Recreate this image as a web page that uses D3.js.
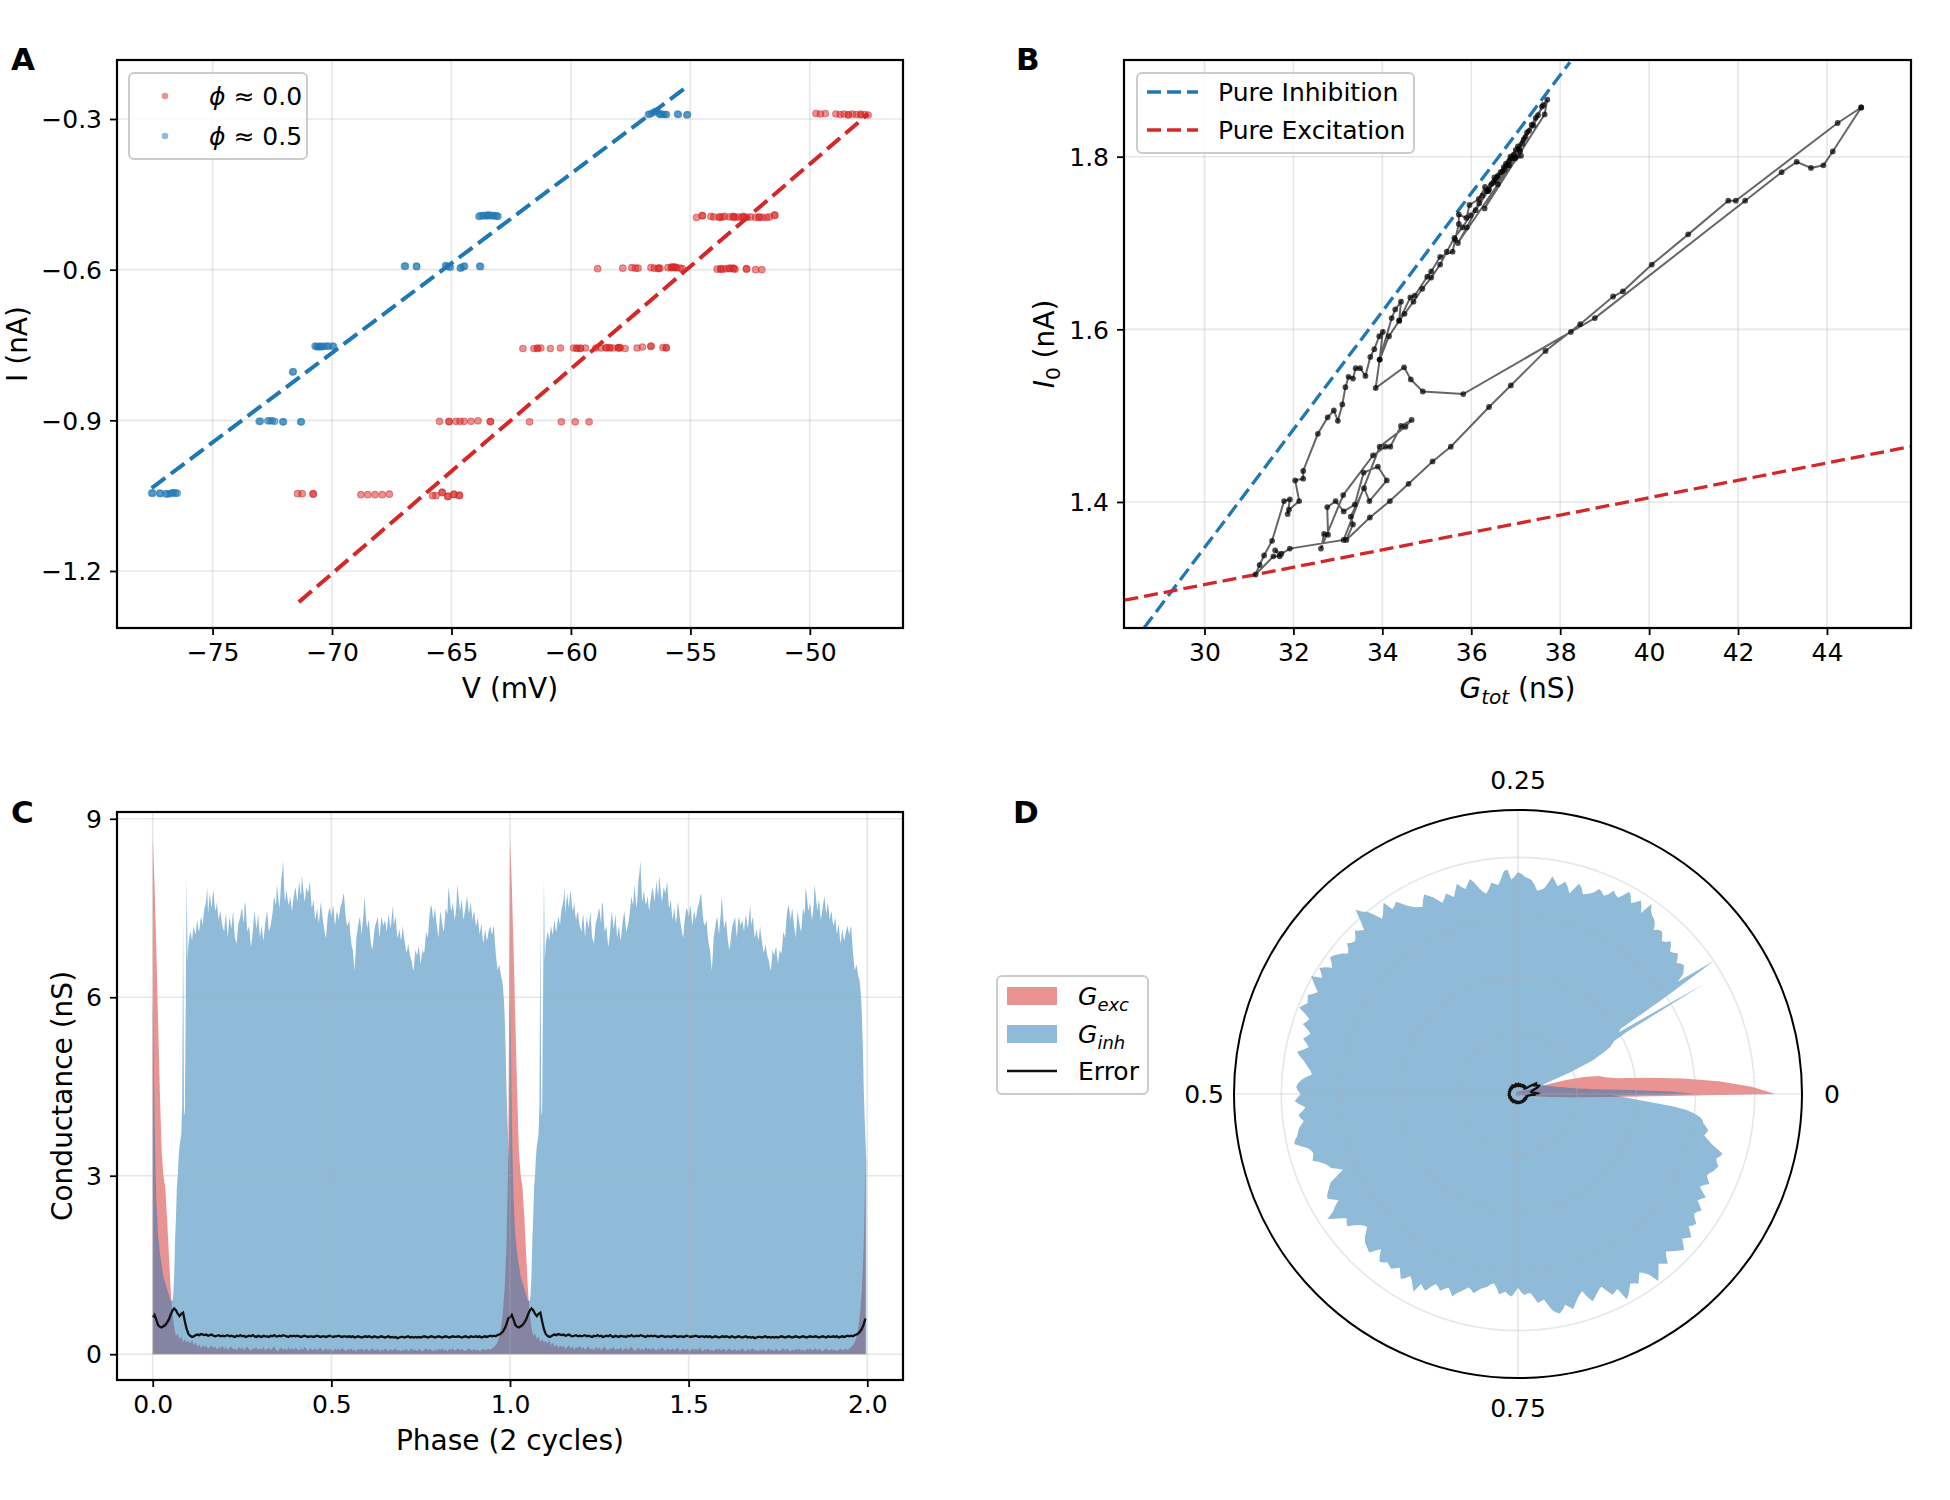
<!DOCTYPE html>
<html>
<head>
<meta charset="utf-8">
<script src="https://cdn.jsdelivr.net/npm/d3@7"></script>
<style>
body { margin: 0; background: #fff; }
svg { font-family: "DejaVu Sans", sans-serif; }
</style>
</head>
<body>
<svg id="fig" width="1950" height="1500"></svg>
<script>
// ---------- panel A: I-V points, two phases ----------
var ivPhase0 = [
    [-49.74,-0.289],[-49.56,-0.29],[-49.35,-0.289],[-48.91,-0.29],[-48.73,-0.291],[-48.57,-0.29],[-48.39,-0.291],[-48.39,-0.292],
    [-48.21,-0.29],[-48.05,-0.291],[-47.87,-0.292],[-47.87,-0.29],[-47.69,-0.291],[-47.56,-0.292],
    [-54.74,-0.496],[-54.5,-0.492],[-54.5,-0.493],[-54.14,-0.494],[-54.02,-0.495],[-53.78,-0.495],[-53.78,-0.496],[-53.66,-0.495],
    [-53.56,-0.494],[-53.35,-0.495],[-53.2,-0.495],[-53.2,-0.494],[-53.13,-0.496],[-52.99,-0.495],[-52.84,-0.496],[-52.77,-0.495],
    [-52.77,-0.494],[-52.63,-0.496],[-52.48,-0.495],[-52.27,-0.496],[-52.12,-0.495],[-52.12,-0.496],[-51.98,-0.496],[-51.81,-0.496],
    [-51.69,-0.495],[-51.47,-0.491],[-51.47,-0.492],
    [-58.88,-0.598],[-57.83,-0.597],[-57.45,-0.596],[-57.3,-0.597],[-57.19,-0.597],[-56.65,-0.596],[-56.51,-0.597],[-56.34,-0.598],
    [-56.34,-0.597],[-56.27,-0.597],[-55.94,-0.596],[-55.79,-0.595],[-55.79,-0.596],[-55.72,-0.595],[-55.65,-0.596],[-55.65,-0.595],
    [-55.58,-0.596],[-55.43,-0.597],[-55.33,-0.598],
    [-53.88,-0.599],[-53.73,-0.599],[-53.73,-0.598],[-53.63,-0.599],[-53.49,-0.598],[-53.35,-0.597],[-53.35,-0.598],[-53.2,-0.598],
    [-53.2,-0.597],[-53.13,-0.599],[-52.65,-0.598],[-52.65,-0.599],[-52.27,-0.6],[-52.01,-0.6],
    [-62.01,-0.757],[-61.55,-0.757],[-61.4,-0.756],[-61.4,-0.757],[-61.26,-0.756],[-60.86,-0.757],[-60.44,-0.756],[-59.89,-0.756],
    [-59.75,-0.756],[-59.75,-0.757],[-59.6,-0.756],[-59.6,-0.757],[-59.39,-0.756],[-58.96,-0.756],[-58.74,-0.756],[-58.53,-0.755],
    [-58.53,-0.756],[-58.38,-0.755],[-58.38,-0.756],[-58.24,-0.756],[-58.02,-0.755],[-58.02,-0.756],[-57.95,-0.756],[-57.95,-0.755],
    [-57.73,-0.757],[-57.23,-0.756],[-57.01,-0.754],[-56.65,-0.752],[-56.65,-0.753],[-56.15,-0.755],[-56.01,-0.755],[-56.01,-0.756],
    [-65.5,-0.902],[-65.1,-0.902],[-65.1,-0.903],[-64.81,-0.902],[-64.64,-0.902],[-64.47,-0.902],[-64.18,-0.902],[-63.89,-0.901],
    [-63.37,-0.902],[-63.37,-0.903],[-61.73,-0.903],[-60.4,-0.903],[-59.82,-0.903],[-59.24,-0.903],
    [-71.44,-1.046],[-71.25,-1.046],[-70.79,-1.046],[-70.79,-1.047],[-68.79,-1.048],[-68.5,-1.048],[-68.2,-1.048],[-67.9,-1.048],
    [-67.6,-1.047],[-65.79,-1.05],[-65.65,-1.05],[-65.39,-1.044],[-65.39,-1.043],[-65.15,-1.051],[-65.15,-1.052],[-64.9,-1.048],
    [-64.9,-1.047],[-64.67,-1.05],[-64.67,-1.049]
];
var ivPhase05 = [
    [-56.76,-0.291],[-56.7,-0.29],[-56.63,-0.289],[-56.52,-0.286],[-56.45,-0.285],[-56.39,-0.284],[-56.3,-0.29],[-56.26,-0.291],
    [-56.2,-0.29],[-56.13,-0.291],[-56.05,-0.291],[-56.0,-0.291],[-55.54,-0.29],[-55.5,-0.291],[-55.15,-0.292],[-55.12,-0.291],
    [-63.85,-0.494],[-63.8,-0.493],[-63.7,-0.492],[-63.65,-0.493],[-63.55,-0.492],[-63.5,-0.493],[-63.45,-0.491],[-63.4,-0.492],
    [-63.3,-0.493],[-63.25,-0.492],[-63.15,-0.493],[-63.1,-0.493],[-63.05,-0.494],
    [-66.97,-0.593],[-66.92,-0.593],[-66.47,-0.593],[-66.45,-0.594],[-65.25,-0.592],[-65.2,-0.593],[-65.1,-0.594],[-65.05,-0.595],
    [-64.63,-0.597],[-64.6,-0.596],[-64.5,-0.594],[-64.45,-0.593],[-63.82,-0.593],[-63.78,-0.594],
    [-70.71,-0.752],[-70.66,-0.753],[-70.6,-0.754],[-70.55,-0.753],[-70.5,-0.752],[-70.45,-0.754],[-70.4,-0.753],[-70.3,-0.752],
    [-70.2,-0.753],[-70.15,-0.752],[-69.98,-0.752],[-69.93,-0.753],
    [-71.65,-0.804],[-71.62,-0.803],
    [-73.05,-0.902],[-73.0,-0.902],[-72.69,-0.901],[-72.6,-0.901],[-72.5,-0.901],[-72.4,-0.902],[-72.06,-0.903],[-72.03,-0.903],
    [-71.31,-0.903],[-71.28,-0.903],
    [-77.55,-1.045],[-77.5,-1.045],[-77.21,-1.045],[-77.18,-1.046],[-76.95,-1.046],[-76.9,-1.047],[-76.79,-1.046],[-76.7,-1.045],
    [-76.64,-1.044],[-76.55,-1.045],[-76.48,-1.045]
];
var fitPhase0 = [[-71.39,-1.262],[-47.56,-0.29]];
var fitPhase05 = [[-77.55,-1.035],[-55.07,-0.233]];
var ivXTicks = [-75,-70,-65,-60,-55,-50];
var ivYTicks = [-1.2,-0.9,-0.6,-0.3];

// ---------- panel B: G_tot vs I_0 trajectory ----------
var pureInhibition = [[28.64,1.254],[38.22,1.9095]];
var pureExcitation = [[28.2,1.2862],[45.89,1.4642]];
var gTrajectory = [
    [44.77,1.857],[44.24,1.839],[41.95,1.749],[41.78,1.749],[40.88,1.710],[40.06,1.675],[39.41,1.644],[39.19,1.638],[38.45,1.606],
    [37.67,1.575],[36.89,1.535],[36.40,1.510],[35.54,1.464],[35.13,1.447],[34.59,1.421],[34.17,1.401],[33.72,1.382],[33.19,1.356],
    [33.34,1.374],[33.29,1.383],[33.59,1.416],[33.71,1.401],[34.10,1.425],[33.90,1.441],[33.58,1.434],[33.38,1.397],[33.13,1.389],
    [32.95,1.401],[32.76,1.394],[32.78,1.362],[32.69,1.363],[32.62,1.346],[33.12,1.408],[33.79,1.454],[34.07,1.464],[34.18,1.464],
    [34.42,1.488],[34.66,1.495],[34.52,1.487],[33.94,1.464],[33.13,1.356],
    [31.92,1.346],[31.73,1.340],[31.59,1.344],[31.69,1.337],[31.55,1.337],[31.15,1.316],[31.24,1.327],[31.34,1.338],[31.52,1.355],
    [31.79,1.401],[31.92,1.403],[31.87,1.386],[31.90,1.391],[32.13,1.401],[32.04,1.425],[32.22,1.427],[32.22,1.436],[32.55,1.479],
    [32.77,1.498],[32.91,1.506],[33.00,1.494],[33.10,1.513],[33.17,1.533],[33.24,1.545],[33.34,1.543],[33.40,1.555],[33.50,1.555],
    [33.62,1.546],[33.73,1.568],[33.82,1.577],[33.93,1.592],[34.01,1.597],[33.94,1.565],[34.21,1.613],[34.29,1.623],[34.42,1.632],
    [34.38,1.610],[34.63,1.637],[34.73,1.639],[35.01,1.661],[35.10,1.667],[35.30,1.684],[35.58,1.690],[35.64,1.704],[35.72,1.722],
    [35.72,1.733],[35.89,1.729],[35.96,1.744],[36.17,1.751],[36.31,1.765],[36.25,1.755],[36.52,1.776],[36.45,1.768],[36.73,1.788],
    [36.66,1.782],[36.90,1.798],[36.85,1.790],[37.08,1.809],[37.00,1.800],[37.22,1.823],[37.15,1.815],[37.36,1.837],[37.30,1.830],
    [37.50,1.848],[37.59,1.858],[37.71,1.866],[37.65,1.849],
    [36.30,1.740],[36.60,1.768],[36.75,1.785],[37.12,1.801],[36.98,1.798],[36.80,1.790],[37.05,1.812],[37.25,1.828],[37.45,1.845],
    [37.62,1.860],[37.40,1.836],[37.18,1.820],[36.95,1.802],[36.70,1.783],[36.50,1.770],[36.35,1.760],[36.55,1.772],[36.85,1.795],
    [37.10,1.806],[35.70,1.700],[35.90,1.718],[36.10,1.738],[36.40,1.762],[36.60,1.778],[36.88,1.800],[37.00,1.808],[36.78,1.792],
    [36.58,1.776],[36.38,1.760],[36.18,1.746],[35.98,1.732],[35.80,1.718],[35.62,1.706],[35.45,1.690],[35.30,1.675],
    [35.10,1.660],[34.90,1.647],[34.70,1.632],[34.50,1.618],[34.38,1.610],[34.15,1.592],[33.94,1.565],[33.85,1.532],[34.49,1.556],
    [34.64,1.542],[34.91,1.528],[35.82,1.525],[38.24,1.597],[38.78,1.613],[42.16,1.749],[42.98,1.782],[43.32,1.794],[43.64,1.787],
    [43.92,1.790],[44.13,1.806],[44.77,1.857]
];
var gXTicks = [30,32,34,36,38,40,42,44];
var gYTicks = [1.4,1.6,1.8];

// ---------- panels C and D: one cycle of conductances ----------
// inhibitory conductance, phase step 0.0025
var inhStep = 0.0025;
var gInh = [
    6.0,5.2,4.0,3.2,2.6,2.3,2.0,1.85,1.7,1.6,1.5,1.4,1.3,1.25,1.2,1.15,1.1,1.05,1.0,0.95,
    0.9,0.9,0.9,1.0,1.3,1.9,2.3,2.8,3.0,3.3,3.5,3.6,3.7,4.2,7.3,4.0,4.1,6.0,8.0,6.6,
    6.9,7.0,7.1,7.05,6.95,7.1,7.2,7.1,7.05,7.2,7.3,7.15,7.1,7.25,7.35,7.3,7.2,7.4,7.5,7.55,
    7.65,7.85,7.4,7.6,7.75,7.6,7.5,7.7,7.8,7.6,7.45,7.5,7.6,7.4,7.3,7.4,7.45,7.3,7.2,7.15,
    7.1,7.3,7.4,7.2,7.0,7.2,7.35,7.25,7.15,7.3,7.45,7.2,7.0,6.95,6.9,7.1,7.25,7.3,7.35,7.45,
    7.5,7.35,7.25,7.6,7.55,7.3,7.1,7.15,7.2,7.0,6.85,6.95,7.1,7.3,7.45,7.3,7.15,7.25,7.4,7.2,
    7.0,7.1,7.2,7.05,6.95,7.1,7.25,7.35,7.45,7.3,7.1,7.15,7.2,7.3,7.4,7.55,7.7,7.6,7.55,7.9,
    7.75,7.6,7.5,7.75,8.0,8.1,8.3,7.9,7.6,7.7,7.8,7.65,7.55,7.6,7.7,7.55,7.45,7.6,7.7,7.8,
    7.85,7.7,7.6,7.8,7.95,7.8,7.7,8.05,7.9,7.75,7.6,7.7,7.85,7.8,7.75,7.85,7.95,7.7,7.5,7.55,
    7.65,7.45,7.3,7.4,7.5,7.35,7.25,7.4,7.6,7.5,7.35,7.25,7.15,7.05,7.0,7.2,7.35,7.45,7.5,7.45,
    7.35,7.45,7.55,7.4,7.2,7.3,7.45,7.4,7.3,7.4,7.5,7.55,7.6,7.7,7.75,7.55,7.35,7.25,7.2,7.25,
    7.3,7.1,6.95,6.85,6.8,6.6,6.45,6.7,7.0,7.1,7.2,7.3,7.35,7.2,7.05,7.25,7.4,7.7,7.5,7.3,
    7.15,7.25,7.3,7.1,6.95,6.85,6.8,6.95,7.1,7.2,7.25,7.3,7.35,7.15,7.0,7.2,7.35,7.3,7.2,7.25,
    7.3,7.2,7.1,7.25,7.4,7.3,7.15,7.25,7.4,7.55,7.2,7.3,7.35,7.15,7.0,7.05,7.15,7.05,6.95,7.05,
    7.2,7.05,6.95,6.85,6.75,6.8,6.9,6.8,6.7,6.65,6.6,6.5,6.45,6.6,6.8,6.75,6.7,6.8,6.85,6.7,
    6.55,6.7,6.8,6.75,6.75,6.9,7.1,7.05,7.0,7.2,7.4,7.5,7.55,7.45,7.3,7.4,7.5,7.35,7.2,7.1,
    7.0,7.25,7.45,7.35,7.25,7.15,7.1,7.3,7.5,7.45,7.4,7.85,7.75,7.6,7.45,7.5,7.6,7.45,7.3,7.4,
    7.55,7.9,7.75,7.6,7.45,7.55,7.65,7.45,7.3,7.4,7.5,7.6,7.7,7.55,7.4,7.5,7.6,7.45,7.3,7.4,
    7.45,7.3,7.2,7.25,7.35,7.2,7.05,7.15,7.25,7.05,6.9,7.0,7.15,7.05,6.95,7.0,7.1,7.15,7.2,7.1,
    7.05,7.15,7.2,6.95,6.75,6.6,6.45,6.5,6.55,6.45,6.35,6.3,6.2,6.0,5.7,5.2,4.5,4.0,3.6,3.2
];
// excitatory conductance and error, phase step 0.005
var phaseStep = 0.005;
var gExc = [
    8.7,7.9,6.8,5.6,4.4,3.4,3.0,2.8,2.3,1.7,
    1.1,0.7,0.45,0.3,0.35,0.25,0.3,0.2,0.25,0.2,
    0.22,0.18,0.24,0.15,0.2,0.12,0.17,0.1,0.15,0.12,
    0.14,0.09,0.12,0.15,0.1,0.13,0.08,0.12,0.1,0.14,
    0.09,0.12,0.07,0.11,0.13,0.08,0.1,0.06,0.12,0.09,
    0.11,0.07,0.1,0.13,0.08,0.06,0.1,0.09,0.12,0.07,
    0.1,0.08,0.12,0.06,0.09,0.11,0.07,0.1,0.13,0.08,
    0.05,0.09,0.11,0.07,0.1,0.06,0.12,0.08,0.1,0.07,
    0.11,0.08,0.06,0.1,0.07,0.12,0.09,0.05,0.1,0.08,
    0.07,0.1,0.06,0.09,0.11,0.05,0.08,0.1,0.06,0.09,
    0.08,0.05,0.1,0.07,0.09,0.06,0.11,0.08,0.05,0.09,
    0.07,0.1,0.06,0.08,0.05,0.09,0.07,0.1,0.06,0.08,
    0.09,0.05,0.08,0.1,0.06,0.07,0.09,0.05,0.08,0.06,
    0.1,0.07,0.05,0.09,0.06,0.08,0.1,0.06,0.07,0.05,
    0.08,0.06,0.09,0.05,0.07,0.1,0.06,0.08,0.05,0.09,
    0.07,0.05,0.08,0.1,0.06,0.09,0.07,0.05,0.08,0.06,
    0.09,0.07,0.1,0.06,0.08,0.05,0.09,0.07,0.1,0.06,
    0.08,0.1,0.06,0.09,0.07,0.05,0.08,0.1,0.07,0.06,
    0.09,0.06,0.08,0.05,0.07,0.1,0.06,0.08,0.09,0.07,
    0.1,0.12,0.15,0.2,0.3,0.45,0.7,1.1,1.8,3.2
];
var gError = [
    0.62,0.66,0.58,0.49,0.46,0.45,0.47,0.49,0.53,0.58,
    0.66,0.73,0.77,0.74,0.68,0.64,0.68,0.7,0.55,0.42,
    0.34,0.31,0.29,0.3,0.32,0.33,0.32,0.34,0.33,0.32,
    0.33,0.31,0.32,0.33,0.31,0.3,0.31,0.32,0.3,0.31,
    0.3,0.31,0.32,0.3,0.31,0.3,0.29,0.31,0.3,0.32,
    0.3,0.31,0.29,0.3,0.31,0.3,0.32,0.3,0.29,0.31,
    0.3,0.29,0.31,0.3,0.3,0.29,0.31,0.3,0.32,0.3,
    0.3,0.31,0.3,0.32,0.31,0.3,0.29,0.31,0.3,0.31,
    0.3,0.31,0.3,0.29,0.3,0.31,0.3,0.29,0.3,0.3,
    0.29,0.3,0.31,0.3,0.29,0.3,0.3,0.29,0.3,0.31,
    0.3,0.29,0.3,0.3,0.31,0.3,0.29,0.3,0.3,0.29,
    0.3,0.29,0.3,0.28,0.29,0.3,0.29,0.28,0.29,0.3,
    0.29,0.3,0.29,0.28,0.3,0.29,0.28,0.29,0.3,0.29,
    0.28,0.29,0.3,0.28,0.29,0.28,0.29,0.27,0.28,0.29,
    0.29,0.28,0.29,0.3,0.28,0.29,0.28,0.29,0.28,0.29,
    0.28,0.29,0.3,0.29,0.28,0.29,0.3,0.29,0.28,0.29,
    0.3,0.29,0.28,0.29,0.3,0.29,0.28,0.29,0.3,0.29,
    0.29,0.3,0.29,0.28,0.29,0.3,0.29,0.28,0.3,0.29,
    0.29,0.3,0.29,0.3,0.28,0.29,0.3,0.29,0.3,0.31,
    0.3,0.31,0.3,0.32,0.33,0.35,0.38,0.43,0.5,0.6
];
var condXTicks = [0, 0.5, 1.0, 1.5, 2.0];
var condYTicks = [0, 3, 6, 9];
var polarRings = [2, 4, 6, 8];
var polarLabels = [0, 0.25, 0.5, 0.75];

// ---------- drawing ----------
var svg = d3.select("#fig");
var RED = "#d62728", BLUE = "#1f77b4";
var TICK_FONT = 25, LABEL_FONT = 28;

function panelLetter(x, y, s) {
    svg.append("text").attr("x", x).attr("y", y)
        .attr("font-size", 31).attr("font-weight", "bold").text(s);
}

function gridLines(g, x, y, xt, yt, w, h) {
    var gg = g.append("g").attr("stroke", "#b0b0b0").attr("stroke-opacity", 0.3).attr("stroke-width", 1.6);
    gg.selectAll(".gx").data(xt).enter().append("line")
        .attr("x1", function(d) { return x(d); }).attr("x2", function(d) { return x(d); })
        .attr("y1", 0).attr("y2", h);
    gg.selectAll(".gy").data(yt).enter().append("line")
        .attr("y1", function(d) { return y(d); }).attr("y2", function(d) { return y(d); })
        .attr("x1", 0).attr("x2", w);
}

function styleAxis(ax) {
    ax.attr("font-family", "DejaVu Sans").attr("font-size", TICK_FONT);
    ax.select(".domain").remove();
    ax.selectAll("line").attr("stroke", "#000").attr("stroke-width", 1.8);
    ax.selectAll("text").attr("fill", "#000");
}

function axesFrame(g, x, y, xt, yt, xf, yf, w, h) {
    var ax = g.append("g").attr("transform", "translate(0," + h + ")")
        .call(d3.axisBottom(x).tickValues(xt).tickFormat(xf).tickSize(7).tickPadding(8));
    styleAxis(ax);
    var ay = g.append("g")
        .call(d3.axisLeft(y).tickValues(yt).tickFormat(yf).tickSize(7).tickPadding(8));
    styleAxis(ay);
    ay.selectAll("text").attr("dy", "0.35em");
    g.append("rect").attr("width", w).attr("height", h)
        .attr("fill", "none").attr("stroke", "#000").attr("stroke-width", 2.2);
}

function clipFor(g, id, w, h) {
    svg.append("defs").append("clipPath").attr("id", id)
        .append("rect").attr("width", w).attr("height", h);
    return g.append("g").attr("clip-path", "url(#" + id + ")");
}

function legendBox(x, y, w, h) {
    svg.append("rect").attr("x", x).attr("y", y).attr("width", w).attr("height", h)
        .attr("rx", 5).attr("fill", "#fff").attr("fill-opacity", 0.8)
        .attr("stroke", "#cccccc").attr("stroke-width", 2);
}

// ===== Panel A =====
(function() {
    var w = 786, h = 568;
    var g = svg.append("g").attr("transform", "translate(117,60)");
    var x = d3.scaleLinear().domain([-79.0, -46.1]).range([0, w]);
    var y = d3.scaleLinear().domain([-1.3135, -0.1825]).range([h, 0]);
    gridLines(g, x, y, ivXTicks, ivYTicks, w, h);
    var inner = clipFor(g, "clipA", w, h);

    function dots(data, color) {
        inner.append("g").selectAll("circle").data(data).enter().append("circle")
            .attr("cx", function(d) { return x(d[0]); }).attr("cy", function(d) { return y(d[1]); })
            .attr("r", 3.3).attr("fill", color).attr("fill-opacity", 0.5)
            .attr("stroke", color).attr("stroke-opacity", 0.5).attr("stroke-width", 1.1);
    }
    dots(ivPhase0, RED);
    dots(ivPhase05, BLUE);

    var line = d3.line().x(function(d) { return x(d[0]); }).y(function(d) { return y(d[1]); });
    inner.append("path").attr("d", line(fitPhase05)).attr("fill", "none")
        .attr("stroke", BLUE).attr("stroke-width", 4).attr("stroke-dasharray", "17,7");
    inner.append("path").attr("d", line(fitPhase0)).attr("fill", "none")
        .attr("stroke", RED).attr("stroke-width", 4).attr("stroke-dasharray", "17,7");

    axesFrame(g, x, y, ivXTicks, ivYTicks, d3.format("d"), d3.format(".1f"), w, h);

    svg.append("text").attr("x", 117 + w / 2).attr("y", 698).attr("text-anchor", "middle")
        .attr("font-size", LABEL_FONT).text("V (mV)");
    svg.append("text").attr("transform", "translate(27,344) rotate(-90)").attr("text-anchor", "middle")
        .attr("font-size", LABEL_FONT).text("I (nA)");

    legendBox(129, 73, 178, 86);
    var items = [{c: RED, t: "0.0", y: 96}, {c: BLUE, t: "0.5", y: 136}];
    items.forEach(function(it) {
        svg.append("circle").attr("cx", 165).attr("cy", it.y).attr("r", 3.3)
            .attr("fill", it.c).attr("fill-opacity", 0.5);
        var t = svg.append("text").attr("x", 209).attr("y", it.y).attr("dy", "0.35em").attr("font-size", TICK_FONT);
        t.append("tspan").attr("font-style", "italic").text("\u03d5");
        t.append("tspan").text(" \u2248 " + it.t);
    });
    panelLetter(11, 70, "A");
})();

// ===== Panel B =====
(function() {
    var w = 787, h = 568;
    var g = svg.append("g").attr("transform", "translate(1124,60)");
    var x = d3.scaleLinear().domain([28.19, 45.89]).range([0, w]);
    var y = d3.scaleLinear().domain([1.254, 1.912]).range([h, 0]);
    gridLines(g, x, y, gXTicks, gYTicks, w, h);
    var inner = clipFor(g, "clipB", w, h);
    var line = d3.line().x(function(d) { return x(d[0]); }).y(function(d) { return y(d[1]); });

    inner.append("path").attr("d", line(pureInhibition)).attr("fill", "none")
        .attr("stroke", BLUE).attr("stroke-width", 3.3).attr("stroke-dasharray", "14,6");
    inner.append("path").attr("d", line(pureExcitation)).attr("fill", "none")
        .attr("stroke", RED).attr("stroke-width", 3.3).attr("stroke-dasharray", "14,6");

    inner.append("path").attr("d", line(gTrajectory)).attr("fill", "none")
        .attr("stroke", "#000").attr("stroke-opacity", 0.6).attr("stroke-width", 2);
    inner.selectAll(".pt").data(gTrajectory).enter().append("circle")
        .attr("cx", function(d) { return x(d[0]); }).attr("cy", function(d) { return y(d[1]); })
        .attr("r", 2.9).attr("fill", "#000").attr("fill-opacity", 0.7);

    axesFrame(g, x, y, gXTicks, gYTicks, d3.format("d"), d3.format(".1f"), w, h);

    var xl = svg.append("text").attr("x", 1124 + w / 2).attr("y", 698).attr("text-anchor", "middle")
        .attr("font-size", LABEL_FONT);
    xl.append("tspan").attr("font-style", "italic").text("G");
    xl.append("tspan").attr("font-style", "italic").attr("font-size", 20).attr("dy", 6).text("tot");
    xl.append("tspan").attr("dy", -6).text(" (nS)");

    var yl = svg.append("text").attr("transform", "translate(1054,344) rotate(-90)").attr("text-anchor", "middle")
        .attr("font-size", LABEL_FONT);
    yl.append("tspan").attr("font-style", "italic").text("I");
    yl.append("tspan").attr("font-size", 20).attr("dy", 6).text("0");
    yl.append("tspan").attr("dy", -6).text(" (nA)");

    legendBox(1137, 73, 277, 80);
    var items = [{c: BLUE, t: "Pure Inhibition", y: 92}, {c: RED, t: "Pure Excitation", y: 130}];
    items.forEach(function(it) {
        svg.append("line").attr("x1", 1147).attr("x2", 1198).attr("y1", it.y).attr("y2", it.y)
            .attr("stroke", it.c).attr("stroke-width", 3.3).attr("stroke-dasharray", "14,6");
        svg.append("text").attr("x", 1218).attr("y", it.y).attr("dy", "0.35em")
            .attr("font-size", TICK_FONT).text(it.t);
    });
    panelLetter(1016, 70, "B");
})();

// one-cycle tables used by C (repeated twice) and D
var inhCycle = gInh.map(function(v, i) { return {p: i * inhStep, v: v}; });
var excCycle = gExc.map(function(v, i) { return {p: i * phaseStep, v: v}; });
var errCycle = gError.map(function(v, i) { return {p: i * phaseStep, v: v}; });

function twice(rows) {
    var out = [];
    [0, 1].forEach(function(c) {
        rows.forEach(function(d) { out.push({p: c + d.p, v: d.v}); });
    });
    return out;
}

// ===== Panel C =====
(function() {
    var w = 786, h = 568;
    var g = svg.append("g").attr("transform", "translate(117,812)");
    var x = d3.scaleLinear().domain([-0.1, 2.1]).range([0, w]);
    var y = d3.scaleLinear().domain([-0.434, 9.114]).range([h, 0]);
    var inner = clipFor(g, "clipC", w, h);
    var area = d3.area().x(function(d) { return x(d.p); }).y0(y(0)).y1(function(d) { return y(d.v); });
    inner.append("path").attr("d", area(twice(excCycle))).attr("fill", RED).attr("fill-opacity", 0.5);
    inner.append("path").attr("d", area(twice(inhCycle))).attr("fill", BLUE).attr("fill-opacity", 0.5);
    gridLines(g, x, y, condXTicks, condYTicks, w, h);
    var errLine = d3.line().x(function(d) { return x(d.p); }).y(function(d) { return y(d.v); });
    inner.append("path").attr("d", errLine(twice(errCycle))).attr("fill", "none")
        .attr("stroke", "#111").attr("stroke-width", 2.3);

    axesFrame(g, x, y, condXTicks, condYTicks, d3.format(".1f"), d3.format("d"), w, h);

    svg.append("text").attr("x", 117 + w / 2).attr("y", 1450).attr("text-anchor", "middle")
        .attr("font-size", LABEL_FONT).text("Phase (2 cycles)");
    svg.append("text").attr("transform", "translate(72,1096) rotate(-90)").attr("text-anchor", "middle")
        .attr("font-size", LABEL_FONT).text("Conductance (nS)");
    panelLetter(11, 823, "C");
})();

// ===== Panel D (polar, one cycle, counter-clockwise from east) =====
(function() {
    var cx = 1518, cy = 1094, R = 284;
    var g = svg.append("g").attr("transform", "translate(" + cx + "," + cy + ")");
    var r = d3.scaleLinear().domain([0, 9.6]).range([0, R]);
    var ang = function(p) { return Math.PI / 2 - 2 * Math.PI * p; };
    var rad = d3.lineRadial().angle(function(d) { return ang(d.p); }).radius(function(d) { return r(d.v); });

    g.append("path").attr("d", rad(excCycle) + "Z").attr("fill", RED).attr("fill-opacity", 0.5);
    g.append("path").attr("d", rad(inhCycle) + "Z").attr("fill", BLUE).attr("fill-opacity", 0.5);

    var gg = g.append("g").attr("stroke", "#b0b0b0").attr("stroke-opacity", 0.3).attr("stroke-width", 1.6).attr("fill", "none");
    gg.selectAll("circle").data(polarRings).enter().append("circle").attr("r", function(d) { return r(d); });
    gg.selectAll("line").data(polarLabels).enter().append("line")
        .attr("x1", 0).attr("y1", 0)
        .attr("x2", function(d) { return R * Math.cos(2 * Math.PI * d); })
        .attr("y2", function(d) { return -R * Math.sin(2 * Math.PI * d); });

    g.append("path").attr("d", rad(errCycle)).attr("fill", "none")
        .attr("stroke", "#111").attr("stroke-width", 2.3);
    g.append("circle").attr("r", R).attr("fill", "none").attr("stroke", "#000").attr("stroke-width", 2);

    g.selectAll(".tl").data(polarLabels).enter().append("text")
        .attr("x", function(d) { return (R + 30) * Math.cos(2 * Math.PI * d); })
        .attr("y", function(d) { return -(R + 30) * Math.sin(2 * Math.PI * d); })
        .attr("dy", "0.35em").attr("text-anchor", "middle").attr("font-size", TICK_FONT)
        .text(function(d) { return d === 0 ? "0" : String(d); });

    legendBox(997, 976, 151, 118);
    var items = [{c: RED, s: "exc", y: 996}, {c: BLUE, s: "inh", y: 1034}];
    items.forEach(function(it) {
        svg.append("rect").attr("x", 1007).attr("y", it.y - 9).attr("width", 50).attr("height", 18)
            .attr("fill", it.c).attr("fill-opacity", 0.5);
        var t = svg.append("text").attr("x", 1078).attr("y", it.y).attr("dy", "0.35em").attr("font-size", TICK_FONT);
        t.append("tspan").attr("font-style", "italic").text("G");
        t.append("tspan").attr("font-style", "italic").attr("font-size", 18).attr("dy", 6).text(it.s);
    });
    svg.append("line").attr("x1", 1007).attr("x2", 1057).attr("y1", 1071).attr("y2", 1071)
        .attr("stroke", "#111").attr("stroke-width", 2.3);
    svg.append("text").attr("x", 1078).attr("y", 1071).attr("dy", "0.35em").attr("font-size", TICK_FONT).text("Error");
    panelLetter(1013, 823, "D");
})();
</script>
</body>
</html>
